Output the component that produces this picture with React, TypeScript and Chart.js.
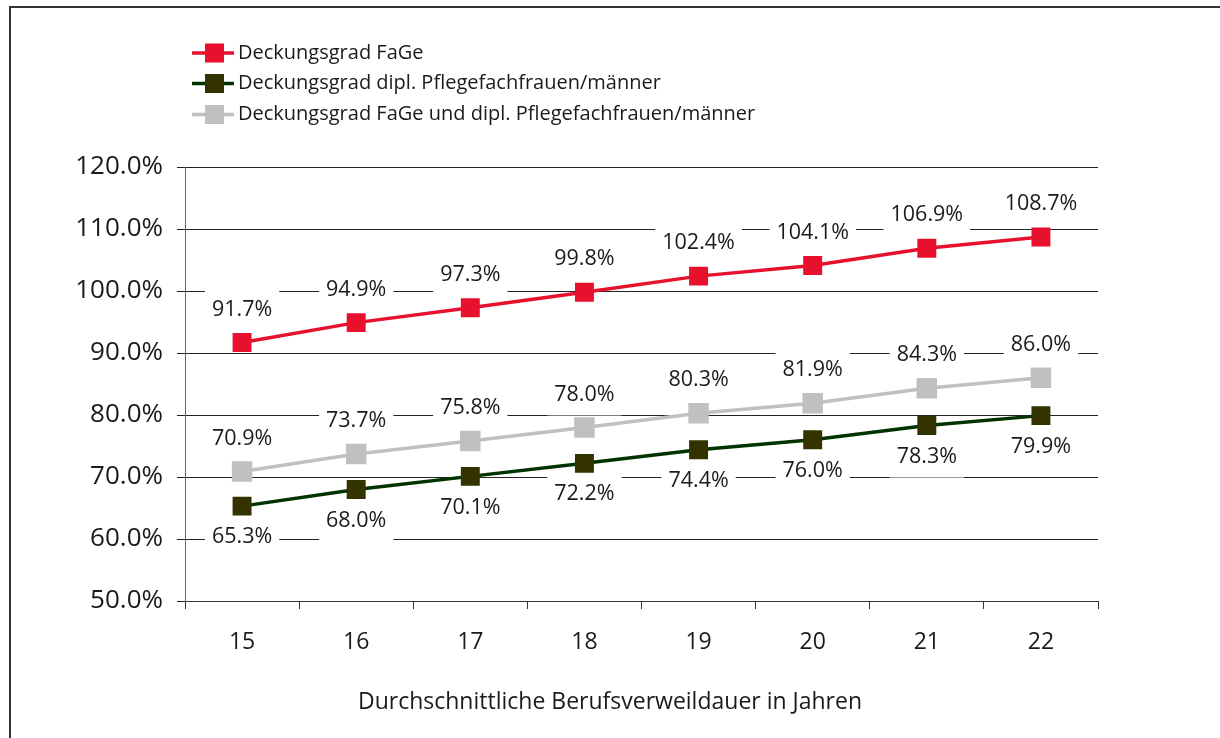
import React, { useEffect, useRef } from "react";
import { Chart, registerables } from "chart.js";

Chart.register(...registerables);

const categories = ["15", "16", "17", "18", "19", "20", "21", "22"];
const fageValues = [91.7, 94.9, 97.3, 99.8, 102.4, 104.1, 106.9, 108.7];
const diplValues = [65.3, 68.0, 70.1, 72.2, 74.4, 76.0, 78.3, 79.9];
const combinedValues = [70.9, 73.7, 75.8, 78.0, 80.3, 81.9, 84.3, 86.0];
const seriesNames = [
  "Deckungsgrad FaGe",
  "Deckungsgrad dipl. Pflegefachfrauen/männer",
  "Deckungsgrad FaGe und dipl. Pflegefachfrauen/männer",
];
const xTitle = "Durchschnittliche Berufsverweildauer in Jahren";

const FONT = "'Open Sans', 'Noto Sans', sans-serif";
const TEXT = "#1a1a1a";

const fmt = (v: number) => v.toFixed(1) + "%";

const customPlugin = {
  id: "custom",
  beforeDraw(chart: any) {
    const ctx = chart.ctx;
    ctx.save();
    ctx.fillStyle = "#ffffff";
    ctx.fillRect(0, 0, chart.width, chart.height);
    ctx.strokeStyle = "#333333";
    ctx.lineWidth = 2;
    ctx.beginPath();
    ctx.moveTo(10, chart.height);
    ctx.lineTo(10, 7);
    ctx.lineTo(chart.width, 7);
    ctx.stroke();
    ctx.restore();
  },
  beforeDatasetsDraw(chart: any) {
    const ctx = chart.ctx;
    ctx.save();
    ctx.font = `21.5px ${FONT}`;
    chart.data.datasets.forEach((ds: any, i: number) => {
      const meta = chart.getDatasetMeta(i);
      meta.data.forEach((pt: any, j: number) => {
        const t = fmt(ds.data[j]);
        const w = ctx.measureText(t).width;
        const y = pt.y + ds.labelOffset;
        ctx.fillStyle = "#ffffff";
        ctx.fillRect(pt.x - w / 2 - 7, y - 21, w + 14, 42);
      });
    });
    ctx.restore();
  },
  afterDatasetsDraw(chart: any) {
    const ctx = chart.ctx;
    ctx.save();
    ctx.font = `21.5px ${FONT}`;
    ctx.fillStyle = TEXT;
    ctx.textAlign = "center";
    ctx.textBaseline = "middle";
    chart.data.datasets.forEach((ds: any, i: number) => {
      const meta = chart.getDatasetMeta(i);
      meta.data.forEach((pt: any, j: number) => {
        ctx.fillText(fmt(ds.data[j]), pt.x, pt.y + ds.labelOffset);
      });
    });
    ctx.restore();
  },
  afterDraw(chart: any) {
    const ctx = chart.ctx;
    ctx.save();
    // legend
    ctx.font = `20px ${FONT}`;
    ctx.textBaseline = "middle";
    ctx.textAlign = "left";
    const rows = [53, 83.5, 114.5];
    chart.data.datasets.forEach((ds: any, i: number) => {
      const y = rows[i];
      ctx.strokeStyle = ds.borderColor;
      ctx.lineWidth = 3.5;
      ctx.beginPath();
      ctx.moveTo(192, y);
      ctx.lineTo(234, y);
      ctx.stroke();
      ctx.fillStyle = ds.pointBackgroundColor;
      ctx.fillRect(205, y - 9.5, 19, 19);
      ctx.fillStyle = TEXT;
      ctx.fillText(ds.label, 238, y);
    });
    // x title
    ctx.font = `23px ${FONT}`;
    ctx.textAlign = "center";
    ctx.fillText(xTitle, 610, 702);
    ctx.restore();
  },
};

export default function App() {
  const ref = useRef<HTMLCanvasElement>(null);
  useEffect(() => {
    if (!ref.current) return;
    const chart = new Chart(ref.current, {
      type: "line",
      data: {
        labels: categories,
        datasets: [
          {
            label: seriesNames[0],
            data: fageValues,
            borderColor: "#e8112d",
            backgroundColor: "#e8112d",
            pointBackgroundColor: "#e8112d",
            borderWidth: 3.5,
            pointStyle: "rect",
            pointRadius: 13.4,
            pointBorderWidth: 0,
            labelOffset: -33,
          } as any,
          {
            label: seriesNames[1],
            data: diplValues,
            borderColor: "#003300",
            backgroundColor: "#333300",
            pointBackgroundColor: "#333300",
            borderWidth: 3.5,
            pointStyle: "rect",
            pointRadius: 13.4,
            pointBorderWidth: 0,
            labelOffset: 31,
          } as any,
          {
            label: seriesNames[2],
            data: combinedValues,
            borderColor: "#c0c0c0",
            backgroundColor: "#c0c0c0",
            pointBackgroundColor: "#c0c0c0",
            borderWidth: 3.5,
            pointStyle: "rect",
            pointRadius: 14.5,
            pointBorderWidth: 0,
            labelOffset: -33,
          } as any,
        ],
      },
      options: {
        responsive: false,
        animation: false,
        layout: { padding: { top: 167, right: 122, left: 0, bottom: 0 } },
        plugins: {
          legend: { display: false },
          tooltip: { enabled: false },
        },
        scales: {
          x: {
            type: "category",
            offset: true,
            afterFit: (s: any) => {
              s.height = 137;
            },
            grid: {
              offset: true,
              drawOnChartArea: false,
              drawTicks: true,
              tickLength: 8,
              color: "#333333",
              lineWidth: 1,
            },
            border: { color: "#333333", width: 1 },
            ticks: {
              color: TEXT,
              font: { family: FONT, size: 23 },
              padding: 20,
              maxRotation: 0,
            },
          },
          y: {
            min: 50,
            max: 120,
            afterFit: (s: any) => {
              s.width = 185;
            },
            ticks: {
              stepSize: 10,
              color: TEXT,
              font: { family: FONT, size: 26 },
              padding: 14,
              callback: (v: any) => fmt(Number(v)),
            },
            grid: {
              color: "#222222",
              lineWidth: 1,
              tickLength: 8,
            },
            border: { color: "#666666", width: 1 },
          },
        },
      },
      plugins: [customPlugin],
    });
    return () => chart.destroy();
  }, []);
  return (
    <div style={{ position: "fixed", left: 0, top: 0, width: 1220, height: 738 }}>
      <canvas ref={ref} width={1220} height={738} style={{ display: "block" }} />
    </div>
  );
}
